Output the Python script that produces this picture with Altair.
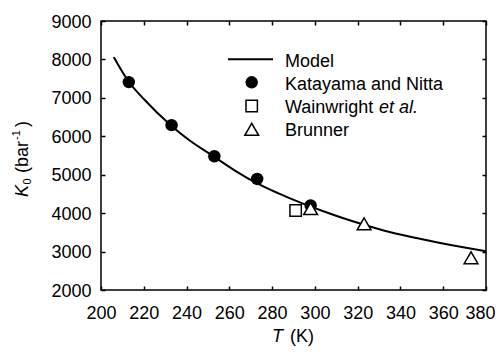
import altair as alt
import pandas as pd

# ---- data ----
model_T = [206, 213, 220, 233, 241, 253, 263, 273, 283, 293, 303, 313, 323, 335, 348, 358, 370, 380]
model_K = [8060, 7420, 6970, 6270, 5910, 5465, 5095, 4775, 4515, 4280, 4070, 3875, 3700, 3510, 3345, 3230, 3105, 3010]

kat_T = [213, 233, 253, 273, 298]
kat_K = [7410, 6290, 5480, 4890, 4200]

wain_T = [291]
wain_K = [4070]

brun_T = [298, 323, 373]
brun_K = [4120, 3720, 2840]

x_ticks = list(range(200, 381, 20))
y_ticks = list(range(2000, 9001, 1000))

legend_labels = ["Model", "Katayama and Nitta", "Wainwright ", "et al.", "Brunner"]

FONT = "Liberation Sans"
W, H = 385, 269

model_df = pd.DataFrame({"T": model_T, "K": model_K})
kat_df = pd.DataFrame({"T": kat_T, "K": kat_K})
wain_df = pd.DataFrame({"T": wain_T, "K": wain_K})
brun_df = pd.DataFrame({"T": brun_T, "K": brun_K})
one = pd.DataFrame({"a": [0]})

xs = alt.Scale(domain=[200, 380], nice=False, zero=False)
ys = alt.Scale(domain=[2000, 9000], nice=False, zero=False)

common = dict(domain=False, grid=False, ticks=True, tickSize=4, offset=-4,
              tickColor="black", tickWidth=1.5, title=None)

x_bottom = alt.Axis(orient="bottom", values=x_ticks, labelPadding=14, labelFontSize=18,
                    labelFont=FONT, labelColor="black", labelFlush=False,
                    labelOverlap=False, format="d",
                    labelOffset={"condition": {"test": "datum.value == 380", "value": -6}, "value": 0},
                    **common)
y_left = alt.Axis(orient="left", values=y_ticks, labelPadding=10, labelFontSize=18,
                  labelFont=FONT, labelColor="black", labelFlush=False,
                  labelOverlap=False, labelOffset=1, format="d", **common)
x_top = alt.Axis(orient="top", values=x_ticks, labels=False, **common)
y_right = alt.Axis(orient="right", values=y_ticks, labels=False, **common)

line = alt.Chart(model_df).mark_line(color="black", strokeWidth=2, interpolate="monotone").encode(
    x=alt.X("T:Q", scale=xs, axis=x_bottom),
    y=alt.Y("K:Q", scale=ys, axis=y_left),
)

frame = alt.Chart(model_df).mark_point(opacity=0).encode(
    x=alt.X("T:Q", scale=xs, axis=x_top),
    y=alt.Y("K:Q", scale=ys, axis=y_right),
)

kat = alt.Chart(kat_df).mark_point(shape="circle", filled=True, color="black", size=155, opacity=1).encode(
    x=alt.X("T:Q", scale=xs, axis=None),
    y=alt.Y("K:Q", scale=ys, axis=None),
)
wain = alt.Chart(wain_df).mark_point(shape="square", filled=True, fill="white", stroke="black",
                                     strokeWidth=1.5, size=130, opacity=1).encode(
    x=alt.X("T:Q", scale=xs, axis=None),
    y=alt.Y("K:Q", scale=ys, axis=None),
)
brun = alt.Chart(brun_df).mark_point(shape="triangle-up", filled=True, fill="white", stroke="black",
                                     strokeWidth=1.5, size=190, opacity=1).encode(
    x=alt.X("T:Q", scale=xs, axis=None),
    y=alt.Y("K:Q", scale=ys, axis=None),
)


def txt(s, x, y, size=18, style="normal", angle=0):
    return alt.Chart(one).mark_text(
        text=s, align="left", baseline="alphabetic", font=FONT, fontSize=size,
        fontStyle=style, color="black", angle=angle,
    ).encode(x=alt.value(x), y=alt.value(y))


# legend (decoration)
leg_line = alt.Chart(one).mark_rule(color="black", strokeWidth=2).encode(
    x=alt.value(127), x2=alt.value(172), y=alt.value(38.3))
leg_circ = alt.Chart(one).mark_point(shape="circle", filled=True, color="black", size=155, opacity=1).encode(
    x=alt.value(150.7), y=alt.value(61.3))
leg_sq = alt.Chart(one).mark_point(shape="square", filled=True, fill="white", stroke="black",
                                   strokeWidth=1.5, size=130, opacity=1).encode(
    x=alt.value(150.7), y=alt.value(85))
leg_tri = alt.Chart(one).mark_point(shape="triangle-up", filled=True, fill="white", stroke="black",
                                    strokeWidth=1.5, size=190, opacity=1).encode(
    x=alt.value(150.7), y=alt.value(108.3))

legend = [
    leg_line, leg_circ, leg_sq, leg_tri,
    txt(legend_labels[0], 184, 45.5),
    txt(legend_labels[1], 184, 68.5),
    txt(legend_labels[2], 184, 92),
    txt(legend_labels[3], 278, 92, style="italic"),
    txt(legend_labels[4], 184, 115),
]

# axis titles (rich text)
titles = [
    txt("T", 171, 321, style="italic"),
    txt("(K)", 189, 321),
    txt("K", -73.5, 176, style="italic", angle=270),
    txt("0", -70.5, 163.5, size=11, angle=270),
    txt("(bar", -73.5, 152, angle=270),
    txt("-1", -81, 119, size=11, angle=270),
    txt(")", -73.5, 106, angle=270),
]

chart = alt.layer(line, frame, kat, wain, brun, *legend, *titles).properties(
    width=W, height=H,
    autosize=alt.AutoSizeParams(type="none"),
    padding={"left": 93, "top": 13, "right": 9, "bottom": 56},
).configure_view(stroke="black", strokeWidth=1.5)

chart.save("out.html", embed_options={"renderer": "svg", "actions": False})
